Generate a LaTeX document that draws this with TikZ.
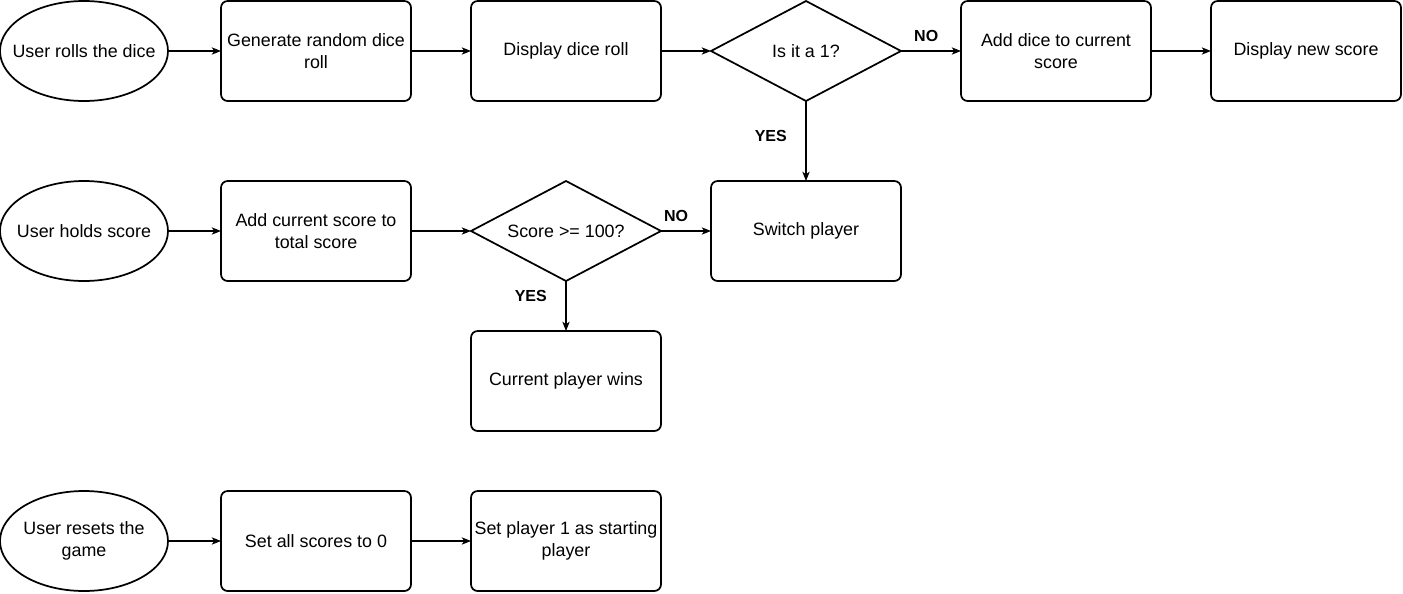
\documentclass[tikz,border=0pt]{standalone}
\usepackage{fontspec}
\setmainfont{Liberation Sans}
\usetikzlibrary{shapes.geometric,positioning,arrows.meta}

\tikzset{
  base/.style={draw, line width=1.3pt, outer sep=0pt, align=center, font=\fontsize{13.4}{16.5}\selectfont},
  event/.style={base, ellipse, inner xsep=-12pt, inner ysep=0pt, minimum width=126pt, minimum height=75pt},
  task/.style={base, rectangle, rounded corners=5pt, inner xsep=1pt, minimum width=142.5pt, minimum height=75pt},
  choice/.style={base, diamond, aspect=1.9, inner sep=0pt, minimum width=142.5pt, minimum height=75pt},
  flow/.style={line width=0.8pt, -{Stealth[length=7pt,width=5.5pt,inset=2pt]}},
  answer/.style={font=\fontsize{12}{14}\selectfont\bfseries, inner sep=1pt}
}

\begin{document}
\begin{tikzpicture}[x=0.75pt, y=-0.75pt]
\useasboundingbox (0,0) rectangle (1403,593);

% rolling
\node[event] (roll) at (84,51) {User rolls the dice};
\node[task, right=39.75pt of roll] (gen) {Generate random dice\\roll};
\node[task, right=45pt of gen] (show) {Display dice roll};
\node[choice, right=37.5pt of show] (isone) {Is it a 1?};
\node[task, right=45pt of isone] (add) {Add dice to current\\score};
\node[task, right=45pt of add] (newscore) {Display new score};

% holding
\node[event] (hold) at (84,231) {User holds score};
\node[task, right=39.75pt of hold] (total) {Add current score to\\total score};
\node[choice, right=45pt of total] (hundred) {Score >= 100?};
\node[task, right=37.5pt of hundred] (switch) {Switch player};
\node[task, below=37.5pt of hundred] (wins) {Current player wins};

% reset
\node[event] (reset) at (84,541) {User resets the\\game};
\node[task, right=39.75pt of reset] (zero) {Set all scores to 0};
\node[task, right=45pt of zero] (first) {Set player 1 as starting\\player};

\draw[flow] (roll) -- (gen);
\draw[flow] (gen) -- (show);
\draw[flow] (show) -- (isone);
\draw[flow] (isone) -- node[answer, above=5.5pt, pos=0.42] {NO} (add);
\draw[flow] (add) -- (newscore);
\draw[flow] (isone) -- node[answer, left=13pt, pos=0.44] {YES} (switch);

\draw[flow] (hold) -- (total);
\draw[flow] (total) -- (hundred);
\draw[flow] (hundred) -- node[answer, above=5.5pt, pos=0.3] {NO} (switch);
\draw[flow] (hundred) -- node[answer, left=13pt, pos=0.3] {YES} (wins);

\draw[flow] (reset) -- (zero);
\draw[flow] (zero) -- (first);
\end{tikzpicture}
\end{document}
